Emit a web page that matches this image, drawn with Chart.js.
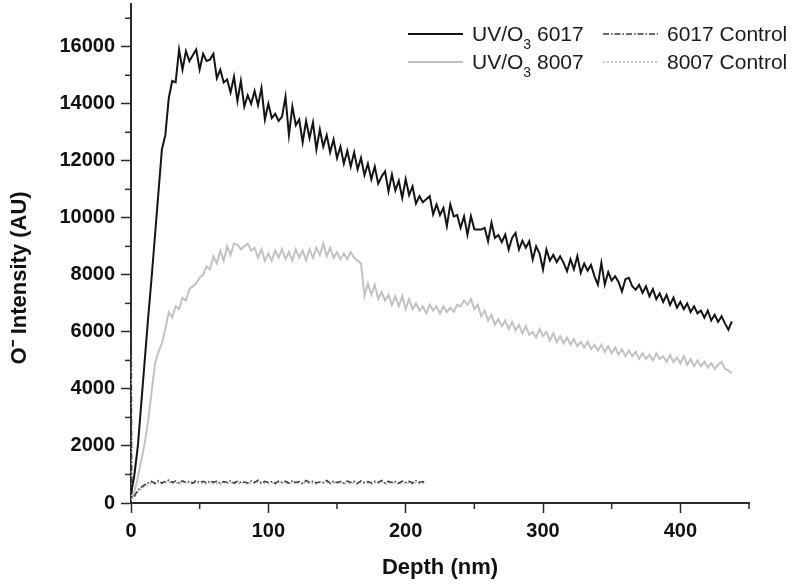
<!DOCTYPE html>
<html>
<head>
<meta charset="utf-8">
<script src="https://cdn.jsdelivr.net/npm/chart.js@4.4.1/dist/chart.umd.min.js"></script>
<style>
  html, body { margin: 0; padding: 0; background: #ffffff; }
  #wrap { width: 800px; height: 585px; position: relative; }
</style>
</head>
<body>
<div id="wrap"><canvas id="c" width="800" height="585"></canvas></div>
<script>
// ---------- DATA ----------
const depthMain = [
  0,2.5,5,7.5,10,12.5,15,17.5,20,22.5,25,27.5,30,32.5,35,37.5,40,42.5,45,47.5,
  50,52.5,55,57.5,60,62.5,65,67.5,70,72.5,75,77.5,80,82.5,85,87.5,90,92.5,95,97.5,
  100,102.5,105,107.5,110,112.5,115,117.5,120,122.5,125,127.5,130,132.5,135,137.5,140,142.5,145,147.5,
  150,152.5,155,157.5,160,162.5,165,167.5,170,172.5,175,177.5,180,182.5,185,187.5,190,192.5,195,197.5,
  200,202.5,205,207.5,210,212.5,215,217.5,220,222.5,225,227.5,230,232.5,235,237.5,240,242.5,245,247.5,
  250,252.5,255,257.5,260,262.5,265,267.5,270,272.5,275,277.5,280,282.5,285,287.5,290,292.5,295,297.5,
  300,302.5,305,307.5,310,312.5,315,317.5,320,322.5,325,327.5,330,332.5,335,337.5,340,342.5,345,347.5,
  350,352.5,355,357.5,360,362.5,365,367.5,370,372.5,375,377.5,380,382.5,385,387.5,390,392.5,395,397.5,
  400,402.5,405,407.5,410,412.5,415,417.5,420,422.5,425,427.5,430,432.5,435,437.5
];
const uv6017 = [
  300,1000,2000,3500,5000,6500,7900,9400,10900,12400,12900,14200,14800,14750,15900,15200,15850,15500,15700,15900,
  15200,15750,15500,15550,15750,14900,15200,14750,14850,14400,14950,14100,14800,13900,14300,14000,14450,13950,14550,13450,
  14000,13500,13650,13400,13550,14250,12900,13900,13250,13450,12650,13400,12800,13350,12400,13100,12500,12900,12300,12750,
  12100,12500,11900,12350,11800,12300,11700,12100,11500,11900,11350,11800,11200,11450,11630,10930,11520,10960,11300,10700,
  11360,10800,11100,10500,10760,10550,10650,10760,10120,10470,10100,10350,9710,10470,10050,10100,9650,10050,9410,10060,
  9600,9590,9590,9650,9180,9830,9300,9400,9150,9410,8890,9300,9470,8890,9200,8950,9180,8540,9000,8750,
  8190,8890,8500,8700,8450,8650,8420,8130,8550,8200,8660,8070,8400,8150,8350,7950,7660,8420,7660,8100,
  7800,7950,7750,7420,7850,7900,7600,7480,7650,7370,7600,7250,7500,7150,7350,7050,7300,6950,7200,6850,
  7050,6800,7000,6700,6900,6650,6750,6500,6750,6400,6600,6350,6550,6300,6080,6370
];
const uv8007 = [
  100,400,900,1500,2100,2900,3900,4900,5300,5600,6100,6700,6500,6900,6800,7200,7100,7500,7600,7700,
  7900,8000,8300,8200,8650,8400,8850,8500,9000,8700,9100,9050,8900,9000,9100,8850,8950,8600,8900,8500,
  8750,8500,8850,8600,8900,8550,8800,8500,8900,8600,8850,8500,8900,8600,8950,8700,9100,8650,8950,8600,
  8800,8550,8750,8550,8800,8600,8500,8400,7250,7700,7300,7650,7150,7400,7100,7300,6950,7250,6900,7250,
  6800,7150,6800,7000,6750,6900,6650,6950,6750,6900,6650,6900,6700,6850,6700,6950,6900,7100,6950,7150,
  6800,6950,6550,6750,6400,6600,6250,6450,6200,6400,6100,6350,6050,6250,5950,6200,5900,6000,5800,6100,
  5850,6000,5700,5950,5650,5850,5600,5800,5550,5750,5500,5650,5450,5650,5400,5550,5350,5550,5300,5500,
  5250,5450,5200,5400,5150,5350,5150,5300,5050,5250,5050,5200,5000,5250,5050,5150,4950,5200,4950,5100,
  4900,5150,4850,5050,4800,5000,4800,4950,4750,4900,4700,4850,4950,4700,4650,4550
];
const depthCtrl = [
  0,0.5,2.5,5,7.5,10,12.5,15,17.5,20,22.5,25,27.5,30,32.5,35,37.5,40,42.5,45,
  47.5,50,52.5,55,57.5,60,62.5,65,67.5,70,72.5,75,77.5,80,82.5,85,87.5,90,92.5,95,
  97.5,100,102.5,105,107.5,110,112.5,115,117.5,120,122.5,125,127.5,130,132.5,135,137.5,140,142.5,145,
  147.5,150,152.5,155,157.5,160,162.5,165,167.5,170,172.5,175,177.5,180,182.5,185,187.5,190,192.5,195,
  197.5,200,202.5,205,207.5,210,212.5,215
];
const ctrl6017 = [
  9800,200,250,450,560,640,700,760,690,780,
  700,760,800,720,770,700,780,720,760,700,
  790,720,760,700,770,730,760,700,750,720,
  780,700,760,720,740,700,770,720,800,700,
  760,720,750,690,770,720,760,700,780,720,
  750,700,790,720,760,700,740,720,790,700,
  760,720,750,700,770,720,760,690,780,720,
  750,700,760,720,790,700,760,720,750,700,
  770,720,760,700,780,720,750,720
];
const ctrl8007 = [
  5200,150,200,380,500,590,650,700,660,720,
  680,710,740,670,720,660,730,680,710,650,
  730,680,710,660,720,680,700,650,720,680,
  730,660,700,680,720,650,710,680,740,660,
  700,680,720,650,730,680,700,660,720,680,
  710,650,730,680,700,660,720,680,740,660,
  700,680,720,650,710,680,700,660,730,680,
  700,650,720,680,740,660,700,680,720,650,
  730,680,700,660,720,680,700,670
];
const seriesLabels = ['UV/O\u2083 6017', '6017 Control', 'UV/O\u2083 8007', '8007 Control'];
const xMajorTicks = [0, 100, 200, 300, 400];
const xMinorTicks = [50, 150, 250, 350, 450];
const yMajorTicks = [0, 2000, 4000, 6000, 8000, 10000, 12000, 14000, 16000];
const yMinorTicks = [1000, 3000, 5000, 7000, 9000, 11000, 13000, 15000, 17000];

// ---------- STYLE ----------
const AXIS = '#2a2a2a';
const FONT = "'Liberation Sans', Arial, Helvetica, sans-serif";

function pts(xs, ys) { return ys.map((v, i) => ({ x: xs[i], y: v })); }

const minorTickPlugin = {
  id: 'minorTicks',
  afterDraw(chart) {
    const { ctx } = chart;
    const xs = chart.scales.x, ys = chart.scales.y;
    ctx.save();
    ctx.strokeStyle = AXIS;
    ctx.lineWidth = 1.5;
    const ax = chart.chartArea.left;
    yMinorTicks.forEach(v => {
      const py = ys.getPixelForValue(v);
      ctx.beginPath(); ctx.moveTo(ax - 6, py); ctx.lineTo(ax, py); ctx.stroke();
    });
    const ay = chart.chartArea.bottom;
    xMinorTicks.forEach(v => {
      const px = xs.getPixelForValue(v);
      ctx.beginPath(); ctx.moveTo(px, ay); ctx.lineTo(px, ay + 6); ctx.stroke();
    });
    ctx.restore();
  }
};

const legendPlugin = {
  id: 'cornerLegend',
  afterDraw(chart) {
    const { ctx } = chart;
    const cols = [408, 603];
    const rows = [34, 62];
    const sampleLen = 55;
    ctx.save();
    chart.data.datasets.forEach((ds, i) => {
      const col = i % 2, row = Math.floor(i / 2);
      const x0 = cols[col], y0 = rows[row];
      ctx.strokeStyle = ds.borderColor;
      ctx.lineWidth = ds.borderWidth;
      ctx.setLineDash(ds.borderDash || []);
      ctx.beginPath(); ctx.moveTo(x0, y0); ctx.lineTo(x0 + sampleLen, y0); ctx.stroke();
      ctx.setLineDash([]);
      ctx.fillStyle = '#1a1a1a';
      ctx.textBaseline = 'middle';
      ctx.textAlign = 'left';
      let tx = x0 + sampleLen + 9;
      const parts = ds.label.split('\u2083');
      ctx.font = "21px " + FONT;
      if (parts.length === 2) {
        ctx.fillText(parts[0], tx, y0 + 1);
        tx += ctx.measureText(parts[0]).width;
        ctx.font = "14px " + FONT;
        ctx.fillText('3', tx, y0 + 11);
        tx += ctx.measureText('3').width;
        ctx.font = "21px " + FONT;
        ctx.fillText(parts[1], tx, y0 + 1);
      } else {
        ctx.fillText(ds.label, tx, y0 + 1);
      }
    });
    ctx.restore();
  }
};

new Chart(document.getElementById('c'), {
  type: 'line',
  data: {
    datasets: [
      { label: seriesLabels[0], data: pts(depthMain, uv6017), borderColor: '#141414', borderWidth: 2, pointRadius: 0, order: 1 },
      { label: seriesLabels[1], data: pts(depthCtrl, ctrl6017), borderColor: '#3a3a3a', borderWidth: 1.5, borderDash: [6, 2, 1.5, 2], pointRadius: 0, order: 2 },
      { label: seriesLabels[2], data: pts(depthMain, uv8007), borderColor: '#c2c2c2', borderWidth: 2, pointRadius: 0, order: 3 },
      { label: seriesLabels[3], data: pts(depthCtrl, ctrl8007), borderColor: '#b5b5b5', borderWidth: 1.5, borderDash: [2, 2], pointRadius: 0, order: 4 }
    ]
  },
  options: {
    responsive: false,
    animation: false,
    devicePixelRatio: 1,
    layout: { padding: { top: 4, right: 51, left: 0, bottom: 0 } },
    plugins: { legend: { display: false }, tooltip: { enabled: false } },
    elements: { line: { tension: 0, fill: false } },
    scales: {
      x: {
        type: 'linear', min: 0, max: 450,
        afterBuildTicks: s => { s.ticks = xMajorTicks.map(v => ({ value: v })); },
        afterFit: s => { s.height = 82; s.paddingLeft = 0; s.paddingRight = 0; },
        border: { display: true, color: AXIS, width: 2 },
        grid: { drawOnChartArea: false, drawTicks: true, tickLength: 10, tickColor: AXIS, tickWidth: 1.5 },
        ticks: { color: '#111', font: { family: FONT, size: 20, weight: 'bold' }, padding: 6, maxRotation: 0, callback: v => String(v) },
        title: { display: true, text: 'Depth (nm)', color: '#111', font: { family: FONT, size: 22, weight: 'bold' }, padding: { top: 0, bottom: 4 } }
      },
      y: {
        type: 'linear', min: 0, max: 17500,
        afterBuildTicks: s => { s.ticks = yMajorTicks.map(v => ({ value: v })); },
        afterFit: s => { s.width = 131; s.paddingTop = 0; s.paddingBottom = 0; },
        border: { display: true, color: AXIS, width: 2 },
        grid: { drawOnChartArea: false, drawTicks: true, tickLength: 10, tickColor: AXIS, tickWidth: 1.5 },
        ticks: { color: '#111', font: { family: FONT, size: 20, weight: 'bold' }, padding: 6, callback: v => String(v) },
        title: { display: true, text: 'O\u207B Intensity (AU)\u00A0\u00A0\u00A0\u00A0\u00A0\u00A0\u00A0\u00A0', color: '#111', font: { family: FONT, size: 22, weight: 'bold' }, padding: { top: 7, bottom: 0 } }
      }
    }
  },
  plugins: [minorTickPlugin, legendPlugin]
});
</script>
</body>
</html>
